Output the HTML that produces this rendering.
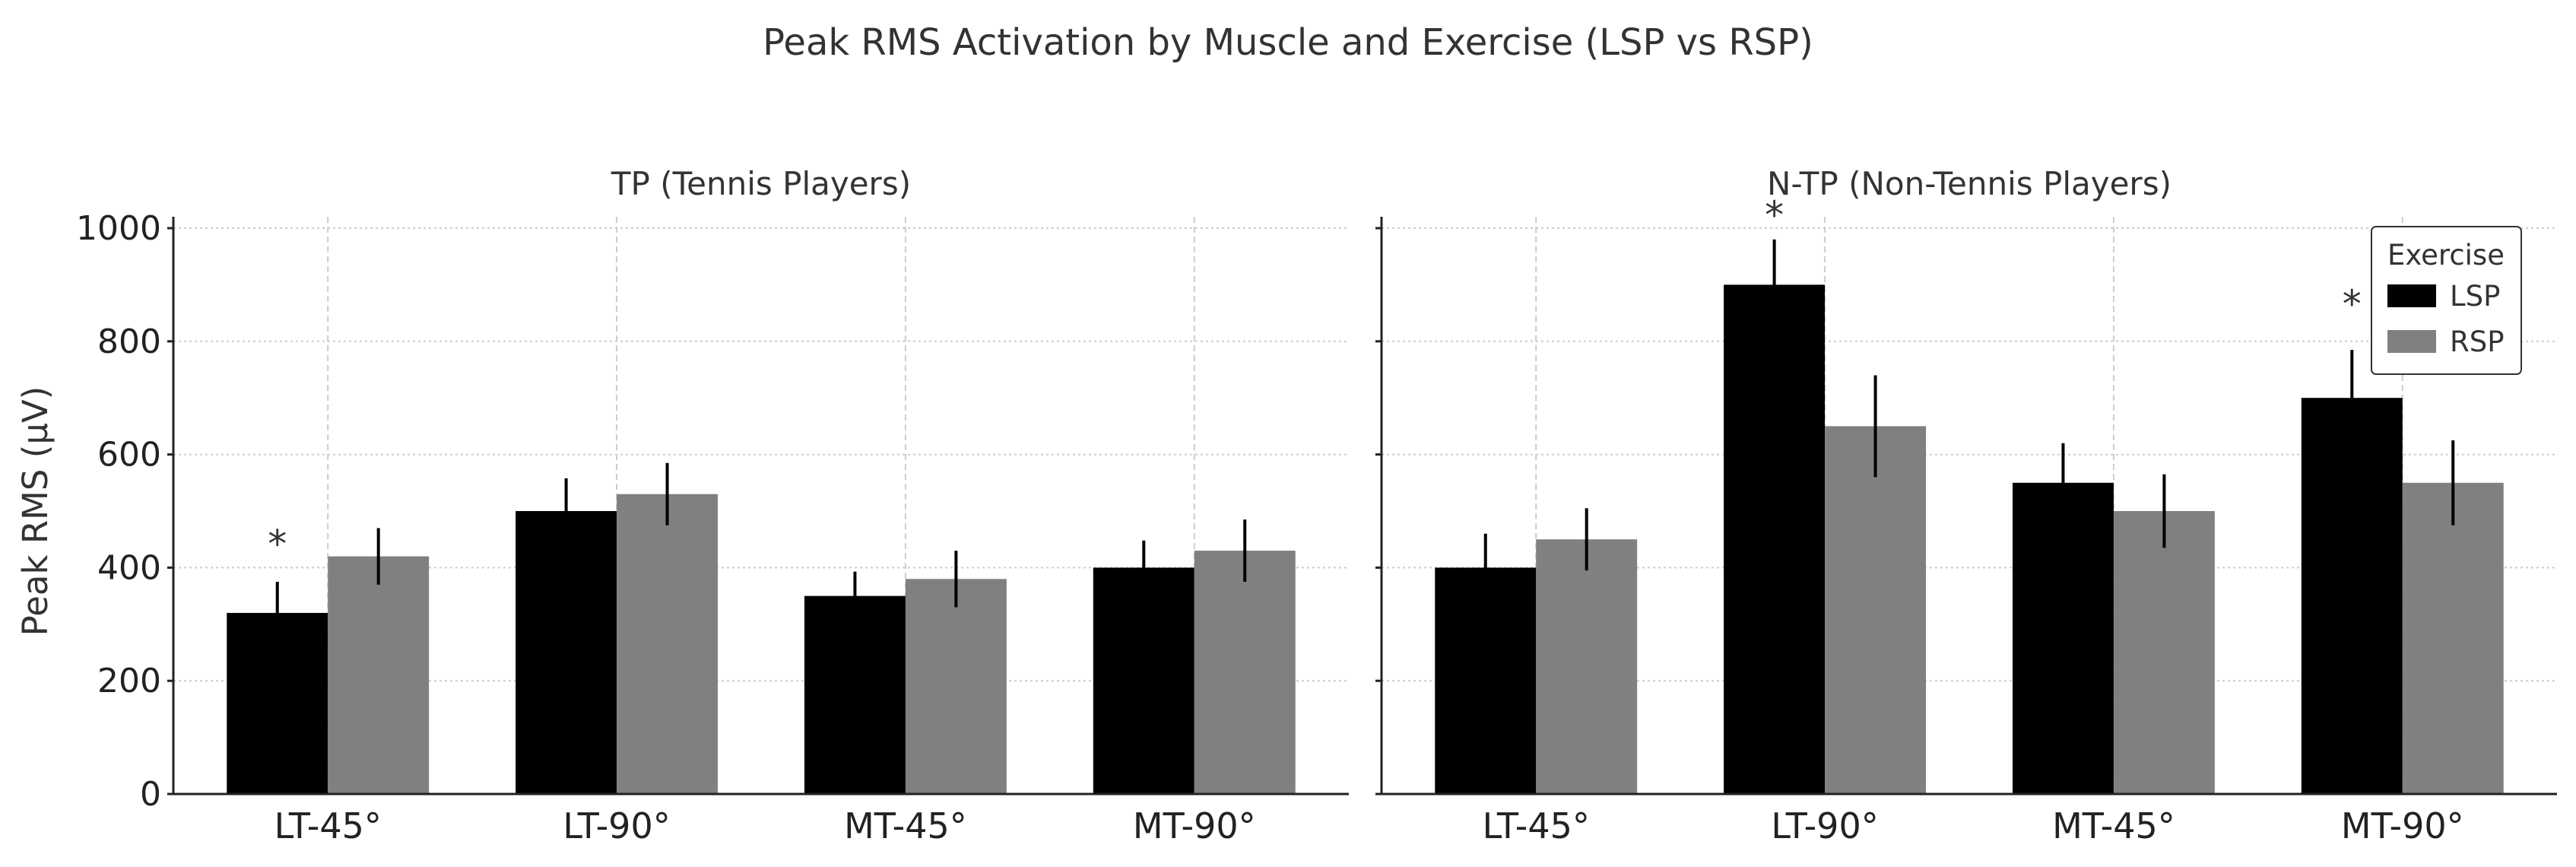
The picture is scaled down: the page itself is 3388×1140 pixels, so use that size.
<!DOCTYPE html>
<html><head><meta charset="utf-8"><style>
html,body{margin:0;padding:0;background:#fff;}
svg{display:block;font-family:"DejaVu Sans","Liberation Sans",sans-serif;}
</style></head><body>
<svg id="chart" width="3388" height="1140" viewBox="0 0 3388 1140" xmlns="http://www.w3.org/2000/svg">
<text x="1694" y="72" text-anchor="middle" font-size="48" fill="#333">Peak RMS Activation by Muscle and Exercise (LSP vs RSP)</text>
<text transform="translate(62,672) rotate(-90)" text-anchor="middle" font-size="45" fill="#333">Peak RMS (μV)</text>
<g id="plots"></g>
<g>
<rect x="3119" y="298" width="197" height="194" rx="6" fill="#fff" stroke="#333" stroke-width="2"/>
<text x="3217" y="348" text-anchor="middle" font-size="37" fill="#333">Exercise</text>
<rect x="3140" y="374" width="64" height="30" fill="#000"/>
<text x="3222" y="402" font-size="37" fill="#333">LSP</text>
<rect x="3140" y="434" width="64" height="30" fill="#808080"/>
<text x="3222" y="462" font-size="37" fill="#333">RSP</text>
</g>
</svg>
<script>
const categories = ["LT-45°","LT-90°","MT-45°","MT-90°"];
const panelTitles = ["TP (Tennis Players)","N-TP (Non-Tennis Players)"];
const tpLSP = [320,500,350,400];
const tpRSP = [420,530,380,430];
const tpLSPerr = [55,58,43,48];
const tpRSPerr = [50,55,50,55];
const ntpLSP = [400,900,550,700];
const ntpRSP = [450,650,500,550];
const ntpLSPerr = [60,80,70,85];
const ntpRSPerr = [55,90,65,75];
const tpStars = [451,null,null,null];
const ntpStars = [null,1032,null,875];
const yTicks = [0,200,400,600,800,1000];

const NS="http://www.w3.org/2000/svg";
const g=document.getElementById('plots');
function mk(tag,attrs,parent){const e=document.createElementNS(NS,tag);for(const k in attrs)e.setAttribute(k,attrs[k]);(parent||g).appendChild(e);return e;}
const y0=1044, ppu=0.744;
function yS(v){return y0-v*ppu;}
const panels=[
 {x0:228,x1:1774,lsp:tpLSP,rsp:tpRSP,le:tpLSPerr,re:tpRSPerr,stars:tpStars,labels:true},
 {x0:1817,x1:3363,lsp:ntpLSP,rsp:ntpRSP,le:ntpLSPerr,re:ntpRSPerr,stars:ntpStars,labels:false}
];
panels.forEach((p,pi)=>{
  const xmin=-0.535,xmax=3.535;
  const xS=v=>p.x0+(v-xmin)/(xmax-xmin)*(p.x1-p.x0);
  const bw=(xS(0.35)-xS(0));
  const pg=mk('g',{});
  
  
  yTicks.forEach(t=>{
    const l=mk('line',{x1:p.x0,x2:p.x1,y1:yS(t),y2:yS(t),stroke:'#ccc','stroke-width':2,'stroke-dasharray':'3,4'},pg);
    
    
  });
  categories.forEach((c,i)=>{
    const l=mk('line',{x1:xS(i),x2:xS(i),y1:285,y2:y0,stroke:'#ccc','stroke-width':2,'stroke-dasharray':'8,5'},pg);
    
    
  });
  categories.forEach((c,i)=>{
    const b1=mk('rect',{x:xS(i)-bw,y:yS(p.lsp[i]),width:bw,height:p.lsp[i]*ppu,fill:'#000'},pg);
    
    
    const b2=mk('rect',{x:xS(i),y:yS(p.rsp[i]),width:bw,height:p.rsp[i]*ppu,fill:'#808080'},pg);
    
    
    const e1=mk('line',{x1:xS(i)-bw/2,x2:xS(i)-bw/2,y1:yS(p.lsp[i]-p.le[i]),y2:yS(p.lsp[i]+p.le[i]),stroke:'#000','stroke-width':4},pg);
    
    
    const e2=mk('line',{x1:xS(i)+bw/2,x2:xS(i)+bw/2,y1:yS(p.rsp[i]-p.re[i]),y2:yS(p.rsp[i]+p.re[i]),stroke:'#000','stroke-width':4},pg);
    
    
    if(p.stars[i]!=null){
      const s=mk('text',{x:xS(i)-bw/2,y:yS(p.stars[i])+24,'text-anchor':'middle','font-size':50,fill:'#333'},pg);
      s.textContent='*';
      
      
    }
    const t=mk('text',{x:xS(i),y:1102,'text-anchor':'middle','font-size':46,fill:'#222'},pg);
    t.textContent=c;
    
    
  });
  const ax=mk('line',{x1:p.x0,x2:p.x0,y1:285,y2:y0+1,stroke:'#222','stroke-width':3},pg);
  
  
  const bx=mk('line',{x1:p.x0,x2:p.x1,y1:y0,y2:y0,stroke:'#222','stroke-width':3},pg);
  
  
  yTicks.forEach(t=>{
    mk('line',{x1:p.x0-8,x2:p.x0,y1:yS(t),y2:yS(t),stroke:'#222','stroke-width':3},pg);
    if(p.labels){
      const tl=mk('text',{x:p.x0-16,y:yS(t)+15,'text-anchor':'end','font-size':44,fill:'#222'},pg);
      tl.textContent=t;
      
      
    }
  });
  const st=mk('text',{x:(p.x0+p.x1)/2,y:256,'text-anchor':'middle','font-size':42,fill:'#333'},pg);
  st.textContent=panelTitles[pi];
  
  
});
</script>
</body></html>
